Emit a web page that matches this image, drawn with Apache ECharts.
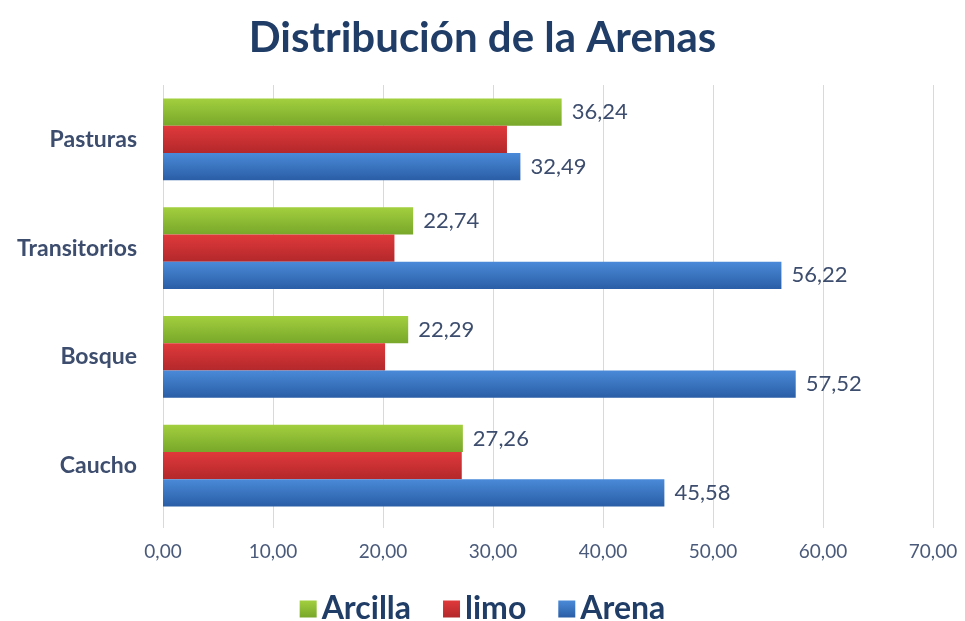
<!DOCTYPE html>
<html>
<head>
<meta charset="utf-8">
<script src="https://cdn.jsdelivr.net/npm/echarts@6/dist/echarts.min.js"></script>
<style>
  html, body { margin: 0; padding: 0; background: #fff; }
  #chart { width: 965px; height: 621px; }
</style>
</head>
<body>
<div id="chart"></div>
<script>
const categories = ['Caucho', 'Bosque', 'Transitorios', 'Pasturas'];
const arena = [45.58, 57.52, 56.22, 32.49];
const limo = [27.16, 20.19, 21.04, 31.27];
const arcilla = [27.26, 22.29, 22.74, 36.24];
const xTicks = [0, 10, 20, 30, 40, 50, 60, 70];

const fontFamily = 'Lato, "Open Sans", sans-serif';
const textColor = '#3d4d6e';

function grad(top, bottom) {
  return new echarts.graphic.LinearGradient(0, 0, 0, 1, [
    { offset: 0, color: top },
    { offset: 1, color: bottom }
  ]);
}

const fmt = v => v.toFixed(2).replace('.', ',');

const valueLabel = {
  show: true,
  position: 'right',
  distance: 10,
  color: textColor,
  fontFamily: fontFamily,
  fontSize: 22,
  formatter: p => fmt(p.value)
};

const myChart = echarts.init(document.getElementById('chart'));

const option = {
  animation: false,
  title: {
    text: 'Distribución de la Arenas',
    left: 'center',
    top: 12,
    textStyle: { color: '#1f3d66', fontFamily: fontFamily, fontSize: 42, fontWeight: 'bold' }
  },
  legend: {
    top: 588,
    left: 'center',
    data: ['Arcilla', 'limo', 'Arena'],
    itemWidth: 17,
    itemHeight: 17,
    itemGap: 32,
    icon: 'rect',
    textStyle: { color: '#1f3d66', fontFamily: fontFamily, fontSize: 32, fontWeight: 'bold' }
  },
  grid: { left: 163, right: 32, top: 85, bottom: 101, containLabel: false },
  xAxis: {
    type: 'value',
    min: 0,
    max: 70,
    interval: 10,
    axisLine: { show: false },
    axisTick: { show: true, length: 8, lineStyle: { color: '#d9d9d9' } },
    splitLine: { show: true, lineStyle: { color: '#d9d9d9', width: 1 } },
    axisLabel: {
      color: '#4a5a7a',
      fontFamily: fontFamily,
      fontSize: 19,
      margin: 22,
      formatter: v => xTicks.includes(v) ? fmt(v) : ''
    }
  },
  yAxis: {
    type: 'category',
    data: categories,
    axisLine: { show: false },
    axisTick: { show: false },
    axisLabel: {
      color: textColor,
      fontFamily: fontFamily,
      fontSize: 23,
      fontWeight: 'bold',
      margin: 26
    }
  },
  series: [
    {
      name: 'Arcilla',
      type: 'bar',
      data: arcilla,
      barGap: '0%',
      barCategoryGap: '25%',
      itemStyle: { color: grad('#a2cf3e', '#78a72a') },
      label: valueLabel
    },
    {
      name: 'limo',
      type: 'bar',
      data: limo,
      itemStyle: { color: grad('#e0393b', '#b3282b') }
    },
    {
      name: 'Arena',
      type: 'bar',
      data: arena,
      itemStyle: { color: grad('#4a8ad8', '#2a5ea6') },
      label: valueLabel
    }
  ]
};

myChart.setOption(option);
</script>
</body>
</html>
